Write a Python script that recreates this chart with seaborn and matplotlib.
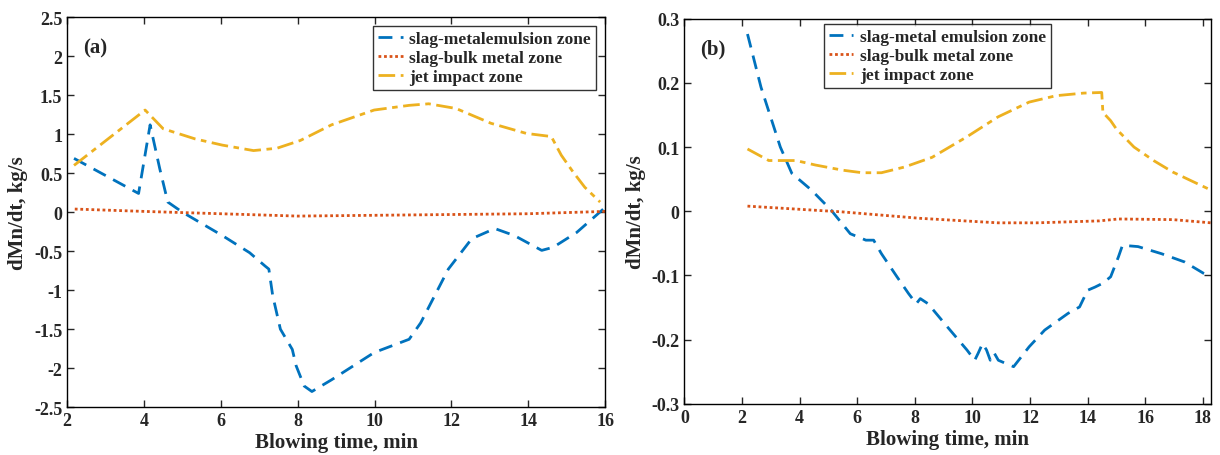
import pandas as pd
import seaborn as sns
import matplotlib.pyplot as plt
from matplotlib.ticker import FormatStrFormatter

# panel (a)
a_emul_t = [2.18, 3.86, 4.16, 4.41, 4.62, 5.0, 6.04, 6.75, 7.15, 7.25, 7.35, 7.55, 7.86, 7.96, 8.17,
            8.37, 8.88, 9.99, 10.9, 11.2, 11.92, 12.53, 13.13, 13.64, 14.35, 14.65, 15.26, 16.0]
a_emul_v = [0.69, 0.24, 1.12, 0.56, 0.13, 0.0, -0.30, -0.52, -0.69, -0.73, -1.07, -1.5, -1.76, -1.97, -2.23,
            -2.30, -2.15, -1.80, -1.63, -1.42, -0.73, -0.34, -0.21, -0.30, -0.49, -0.45, -0.26, 0.06]
a_bulk_t = [2.2, 4, 6, 8, 10, 12, 14, 16]
a_bulk_v = [0.04, 0.01, -0.02, -0.05, -0.04, -0.03, -0.02, 0.01]
a_jet_t = [2.18, 4.03, 4.5, 5.33, 6.04, 6.85, 7.46, 8.07, 8.88, 9.99, 10.9, 11.41, 12.12, 13.03,
           13.95, 14.6, 14.86, 15.16, 15.47, 15.87]
a_jet_v = [0.60, 1.31, 1.07, 0.94, 0.86, 0.79, 0.82, 0.92, 1.12, 1.31, 1.37, 1.39, 1.33, 1.14,
           1.01, 0.97, 0.73, 0.52, 0.32, 0.13]

# panel (b)
b_emul_t = [2.19, 2.66, 3.33, 3.73, 4.41, 5.09, 5.76, 6.3, 6.57, 6.84, 7.38, 7.78, 8.05, 8.19, 8.46,
            9.13, 9.81, 10.08, 10.2, 10.35, 10.49, 10.62, 10.76, 10.9, 11.16, 11.43, 11.97, 12.51,
            13.32, 13.72, 14.0, 14.26, 14.53, 14.8, 15.07, 15.21, 15.75, 16.56, 17.37, 18.04, 18.28]
b_emul_v = [0.276, 0.193, 0.100, 0.059, 0.033, 0.002, -0.035, -0.045, -0.045, -0.066, -0.102, -0.128,
            -0.144, -0.136, -0.144, -0.18, -0.216, -0.232, -0.221, -0.206, -0.216, -0.232, -0.221,
            -0.232, -0.237, -0.242, -0.211, -0.185, -0.159, -0.149, -0.123, -0.118, -0.112, -0.102,
            -0.071, -0.053, -0.055, -0.066, -0.079, -0.097, -0.102]
b_bulk_t = [2.19, 5.49, 8.19, 10.89, 12.24, 14.4, 15.07, 16.96, 18.28]
b_bulk_v = [0.008, -0.001, -0.011, -0.018, -0.018, -0.015, -0.012, -0.013, -0.018]
b_jet_t = [2.19, 2.93, 3.87, 4.55, 5.49, 6.17, 6.84, 7.65, 8.6, 9.81, 10.89, 11.97, 12.91, 13.86,
           14.49, 14.53, 14.8, 15.0, 15.61, 16.29, 16.96, 18.28]
b_jet_v = [0.097, 0.079, 0.079, 0.072, 0.064, 0.060, 0.060, 0.069, 0.084, 0.116, 0.147, 0.170, 0.180,
           0.184, 0.185, 0.154, 0.141, 0.128, 0.100, 0.079, 0.061, 0.033]

colors = ["#0072BD", "#D95319", "#EDB120"]
styles = [(0, (5, 3)), (0, (1, 1)), (0, (6, 2, 2, 2))]

sns.set_style("ticks")
plt.rcParams['font.family'] = ['Liberation Serif', 'DejaVu Serif']
plt.rcParams['font.weight'] = 'bold'
plt.rcParams['axes.labelweight'] = 'bold'
plt.rcParams['axes.unicode_minus'] = False

fig = plt.figure(figsize=(12.2, 4.56), dpi=100)
ax1 = fig.add_axes([0.055, 0.105, 0.441, 0.855])
ax2 = fig.add_axes([0.561, 0.112, 0.432, 0.845])

panels = [
    (ax1, [(a_emul_t, a_emul_v, "slag-metalemulsion zone"),
           (a_bulk_t, a_bulk_v, "slag-bulk metal zone"),
           (a_jet_t, a_jet_v, "jet impact zone")],
     (2, 16), (-2.5, 2.5), 0.5, "(a)"),
    (ax2, [(b_emul_t, b_emul_v, "slag-metal emulsion zone"),
           (b_bulk_t, b_bulk_v, "slag-bulk metal zone"),
           (b_jet_t, b_jet_v, "jet impact zone")],
     (0, 18.3), (-0.3, 0.3), 0.1, "(b)"),
]

for ax, series, xlim, ylim, ystep, tag in panels:
    for (t, v, name), c, ls in zip(series, colors, styles):
        df = pd.DataFrame({"t": t, "v": v})
        sns.lineplot(data=df, x="t", y="v", ax=ax, sort=False, color=c,
                     linestyle=ls, linewidth=2, label=name)
    ax.set_xlim(xlim)
    ax.set_ylim(ylim)
    ax.set_xticks(range(int(xlim[0]), int(xlim[1]) + 1, 2))
    yt = [round(ylim[0] + i * ystep, 2) for i in range(int(round((ylim[1] - ylim[0]) / ystep)) + 1)]
    ax.set_yticks(yt)
    ax.yaxis.set_major_formatter(FormatStrFormatter('%g'))
    ax.tick_params(direction='in', top=True, right=True, labelsize=13, length=5, width=1)
    for sp in ax.spines.values():
        sp.set_linewidth(1)
        sp.set_color("black")
    ax.set_xlabel("Blowing time, min", fontsize=15, labelpad=2)
    ax.set_ylabel("dMn/dt, kg/s", fontsize=15, labelpad=4)
    ax.text(0.03, 0.91, tag, transform=ax.transAxes, fontsize=15, fontweight='bold')

leg1 = ax1.legend(loc="upper right", fontsize=12.5, frameon=True, fancybox=False,
                  edgecolor="black", handlelength=1.4, handletextpad=0.4,
                  borderaxespad=0.5, labelspacing=0.15, borderpad=0.3)
leg2 = ax2.legend(loc="upper center", bbox_to_anchor=(0.48, 1.0), fontsize=12.5, frameon=True,
                  fancybox=False, edgecolor="black", handlelength=1.4, handletextpad=0.4,
                  borderaxespad=0.3, labelspacing=0.15, borderpad=0.3)
for leg in (leg1, leg2):
    leg.get_frame().set_linewidth(1)
    for txt in leg.get_texts():
        txt.set_fontweight('bold')

fig.savefig("out.png", dpi=100)
